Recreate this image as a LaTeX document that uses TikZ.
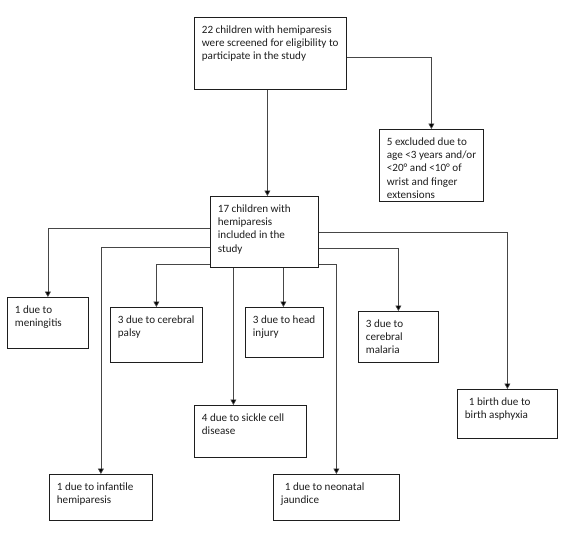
\documentclass[tikz,border=0pt]{standalone}
\usepackage{fontspec}
\setmainfont{Carlito}
\usepackage{tikz}
\usetikzlibrary{arrows.meta,positioning,calc}
\definecolor{Ink}{RGB}{30,30,30}
\definecolor{LineGrey}{RGB}{70,70,70}
% box text: width, height of the frame, then the lines (set from the top left)
\newcommand{\celltxt}[3]{\vtop to \dimexpr#2-13pt\relax{\hbox to \dimexpr#1-15pt\relax{\begin{tabular}[t]{@{}l@{}}#3\end{tabular}\hss}\vfil}}
\tikzset{
  stage/.style={draw=Ink, line width=0.8pt, fill=white, text=Ink, anchor=north west,
    inner xsep=7.5pt, inner ysep=6.5pt, font=\fontsize{11.1}{13.3}\selectfont},
  cause/.style={stage},
  flowarr/.style={-{Triangle[length=5.5pt,width=6pt,fill=black]}, draw=LineGrey, line width=0.7pt},
}

\begin{document}
\begin{tikzpicture}[x=1pt, y=-1pt]
\useasboundingbox (0,0) rectangle (568,538);

% ---------------- screening and inclusion ----------------
\node[stage] (screen) at (194,17)
  {\celltxt{152pt}{72pt}{22 children with hemiparesis\\were screened for eligibility to\\participate in the study}};
\node[stage] (excl) at (379,129)
  {\celltxt{104pt}{72pt}{5 excluded due to\\age <3 years and/or\\<20° and <10° of\\wrist and finger\\extensions}};
\node[stage] (kids) at (210,196)
  {\celltxt{108pt}{71pt}{17 children with\\hemiparesis\\included in the\\study}};

\draw[flowarr] ([yshift=-4pt]screen.east) -| (excl.north);
\draw[flowarr] ([xshift=-3pt]screen.south) -- ([xshift=-3pt]screen.south |- kids.north);

% ---------------- causes ----------------
\node[cause] (menin) at (7,297)   {\celltxt{81pt}{51pt}{1 due to\\meningitis}};
\node[cause] (palsy) at (110,307) {\celltxt{92pt}{55pt}{3 due to cerebral\\palsy}};
\node[cause] (head) at (245,307)  {\celltxt{78pt}{50pt}{3 due to head\\injury}};
\node[cause] (malaria) at (358,311) {\celltxt{80pt}{51pt}{3 due to\\cerebral\\malaria}};
\node[cause] (asphyx) at (457,389) {\celltxt{100pt}{49pt}{\hspace*{4pt}1 birth due to\\birth asphyxia}};
\node[cause] (sickle) at (194,405) {\celltxt{112pt}{52pt}{4 due to sickle cell\\disease}};
\node[cause] (infant) at (49,474) {\celltxt{103pt}{46pt}{1 due to infantile\\hemiparesis}};
\node[cause] (jaund) at (273,474) {\celltxt{126pt}{46pt}{\hspace*{4pt}1 due to neonatal\\jaundice}};

% left side branches
\draw[flowarr] ([yshift=3.5pt]kids.west) -| (menin.north);
\draw[flowarr] ([yshift=-15.5pt]kids.west) -| (infant.north);
\draw[flowarr] ([yshift=-32.5pt]kids.west) -| (palsy.north);
% right side branches
\draw[flowarr] (kids.east) -| (asphyx.north);
\draw[flowarr] ([yshift=-16.5pt]kids.east) -| (malaria.north);
\draw[flowarr] ([yshift=-32.5pt]kids.east) -| (jaund.north);
% straight down from the bottom edge
\draw[flowarr] ([xshift=-31pt]kids.south) -- ([xshift=-31pt]kids.south |- sickle.north);
\draw[flowarr] ([xshift=19pt]kids.south) -- ([xshift=19pt]kids.south |- head.north);

\end{tikzpicture}
\end{document}
